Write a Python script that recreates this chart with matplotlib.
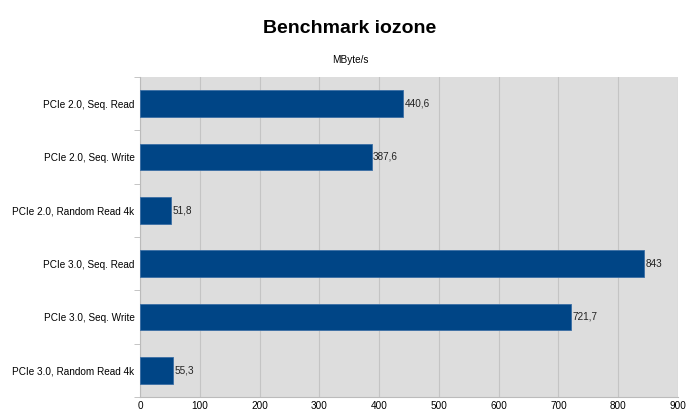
import numpy as np
import matplotlib
matplotlib.use("Agg")
import matplotlib.pyplot as plt

plt.rcParams["font.family"] = ["Liberation Sans", "DejaVu Sans"]

categories = [
    "PCIe 2.0, Seq. Read",
    "PCIe 2.0, Seq. Write",
    "PCIe 2.0, Random Read 4k",
    "PCIe 3.0, Seq. Read",
    "PCIe 3.0, Seq. Write",
    "PCIe 3.0, Random Read 4k",
]
values = [440.6, 387.6, 51.8, 843, 721.7, 55.3]
value_labels = ["440,6", "387,6", "51,8", "843", "721,7", "55,3"]
x_ticks = [0, 100, 200, 300, 400, 500, 600, 700, 800, 900]

fig = plt.figure(figsize=(7, 4.2), dpi=100)
ax = fig.add_axes([0.2, 0.0548, 0.7686, 0.762])
ax.set_facecolor("#dddddd")

y = np.arange(len(categories))
ax.barh(y, values, height=0.5, color="#004586", edgecolor="#3a6ea5", linewidth=0.6, zorder=3)
for yi, v, lab in zip(y, values, value_labels):
    ax.text(v + 2, yi, lab, va="center", ha="left", fontsize=7.2, color="#222222", zorder=4)

ax.set_xlim(0, 900)
ax.set_ylim(len(categories) - 0.5, -0.5)
ax.set_xticks(x_ticks)
ax.set_xticklabels([str(t) for t in x_ticks], fontsize=7.2)
ax.set_yticks(y)
ax.set_yticklabels(categories, fontsize=7.2)
ax.set_yticks(np.arange(-0.5, len(categories), 1.0), minor=True)
ax.tick_params(axis="y", which="major", length=0, pad=4)
ax.tick_params(axis="y", which="minor", length=4, color="#bbbbbb", direction="out")
ax.tick_params(axis="x", length=0, pad=3)
ax.xaxis.grid(True, color="#c4c4c4", linewidth=0.8, zorder=0)
for s in ax.spines.values():
    s.set_visible(False)
ax.spines["left"].set_visible(True)
ax.spines["left"].set_color("#bbbbbb")
ax.spines["bottom"].set_visible(True)
ax.spines["bottom"].set_color("#bbbbbb")

fig.text(0.5, 0.933, "Benchmark iozone", ha="center", va="center", fontsize=14, fontweight="bold")
fig.text(0.5, 0.857, "MByte/s", ha="center", va="center", fontsize=7.2)

fig.savefig("out.png", dpi=100)
